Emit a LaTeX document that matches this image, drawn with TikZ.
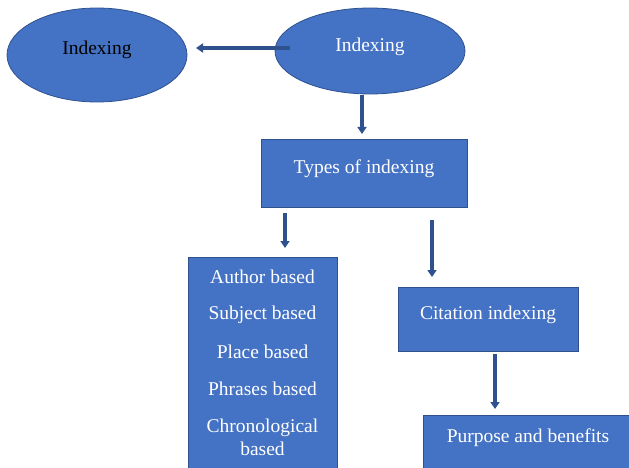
\documentclass[tikz,border=0pt]{standalone}
\usepackage{fontspec}
\setmainfont{Liberation Serif}
\usetikzlibrary{arrows.meta}
\definecolor{ofblue}{HTML}{4472C4}
\definecolor{ofedge}{HTML}{2F528F}
\tikzset{
  shapebox/.style={fill=ofblue, draw=ofedge, line width=0.8pt},
  lbl/.style={font=\fontsize{19.5}{22}\selectfont, text=white, inner sep=0pt},
  conn/.style={draw=ofedge, line width=3.2pt, -{Triangle[length=7pt,width=9pt]}}
}
\begin{document}
\begin{tikzpicture}[x=1pt,y=-1pt]
\useasboundingbox (0,0) rectangle (629,468);
\begin{scope}
\clip (0,0) rectangle (629,468);
% ellipses
\path[shapebox] (97,55) ellipse [x radius=90, y radius=47];
\node[lbl, text=black] (ltext) at (97,50) {Indexing};
\path[shapebox] (370,51) ellipse [x radius=95, y radius=43];
\node[lbl] (rtext) at (370,47) {Indexing};
\coordinate (rl) at (290,48);
\coordinate (ll) at (196,48);
% boxes
\path[shapebox] (261,139) rectangle (467,207);
\node[lbl] (types) at (364,169) {Types of indexing};
\path[shapebox] (188,257) rectangle (337,475);
\node[lbl] (a1) at (262.5,277) {Author based};
\node[lbl] (a2) at (262.5,315) {Subject based};
\node[lbl] (a3) at (262.5,352) {Place based};
\node[lbl] (a4) at (262.5,389) {Phrases based};
\node[lbl, align=center, font=\fontsize{19.5}{23}\selectfont] (a5) at (262.5,437.5) {Chronological\\based};
\path[shapebox] (398,287) rectangle (578,351);
\node[lbl] (cit) at (488,315) {Citation indexing};
\path[shapebox] (423,415) rectangle (640,480);
\node[lbl] (pur) at (528,438) {Purpose and benefits};
% connectors
\coordinate (e1) at (362,95);
\coordinate (e1b) at (362,134);
\coordinate (t1) at (285,213);
\coordinate (t1b) at (285,248);
\coordinate (t2) at (432,220);
\coordinate (t2b) at (432,277);
\coordinate (c1) at (495,354);
\coordinate (c1b) at (495,409);
\draw[conn] (rl) -- (ll);
\draw[conn] (e1) -- (e1b);
\draw[conn] (t1) -- (t1b);
\draw[conn] (t2) -- (t2b);
\draw[conn] (c1) -- (c1b);
\end{scope}
\end{tikzpicture}
\end{document}
